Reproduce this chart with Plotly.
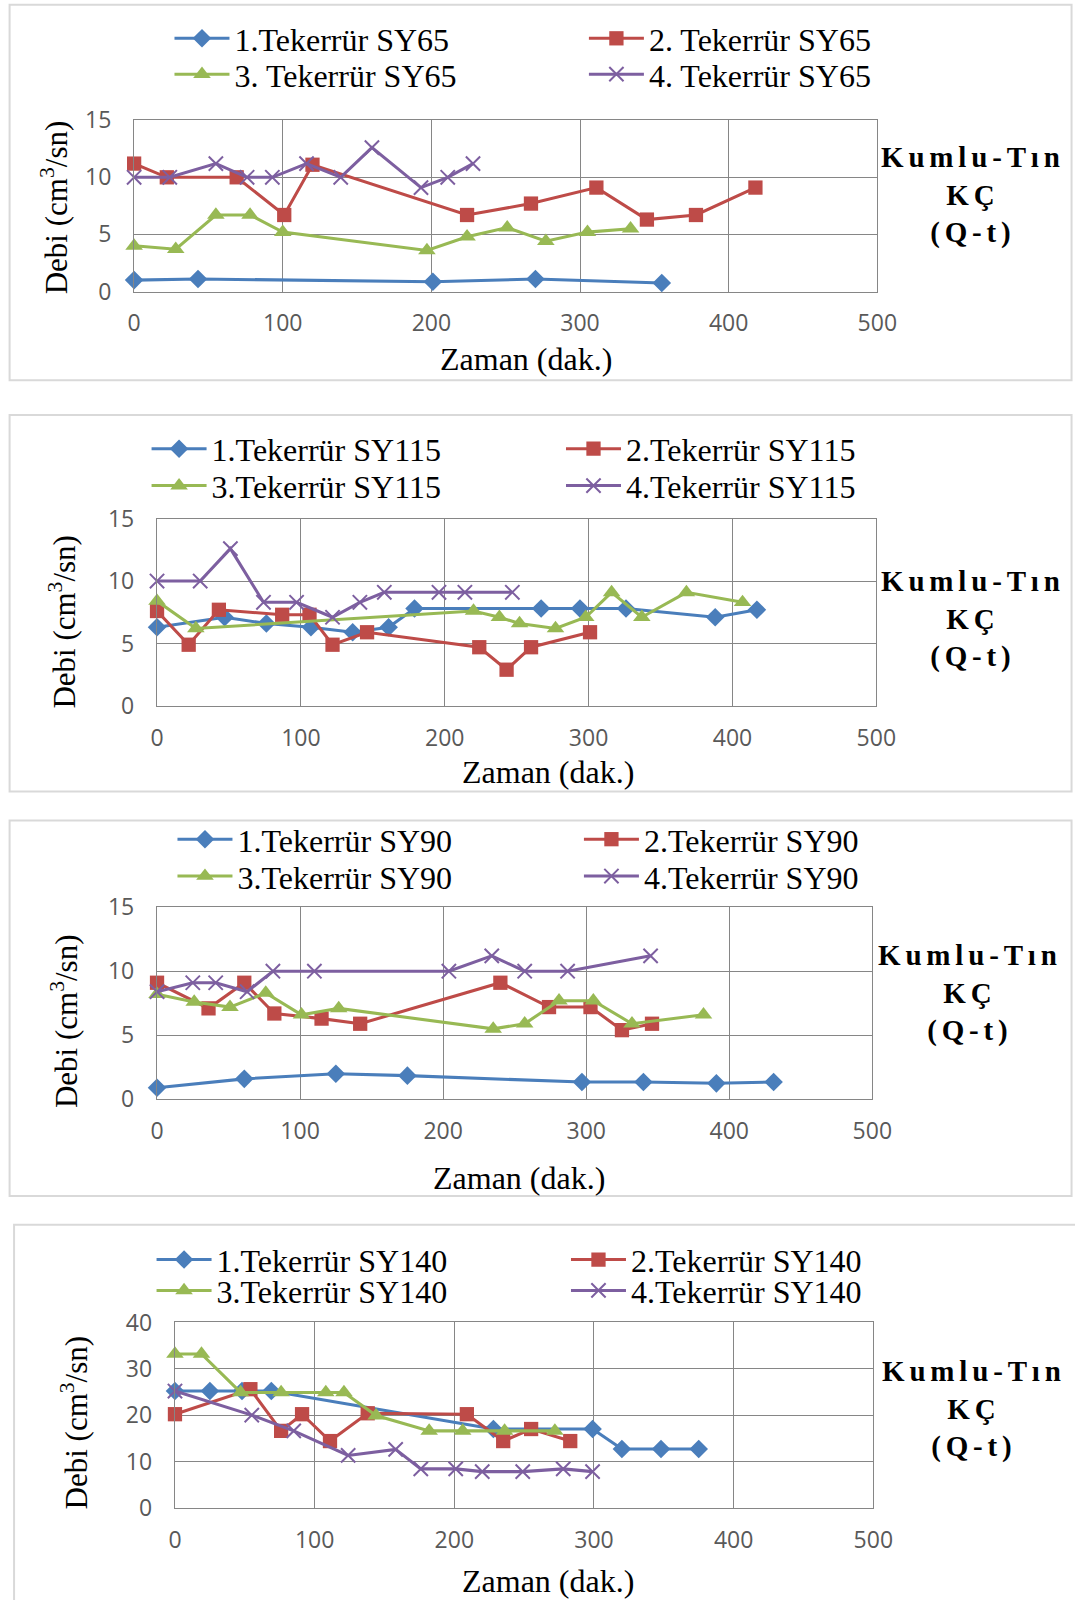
import plotly.graph_objects as go

# ---------------- data ----------------
sy65_1_x = [0, 43, 201, 270, 355]
sy65_1_y = [1.0, 1.1, 0.85, 1.1, 0.75]
sy65_2_x = [0, 22, 69, 101, 120, 224, 267, 311, 345, 378, 418]
sy65_2_y = [11.2, 10.0, 10.0, 6.7, 11.1, 6.7, 7.7, 9.1, 6.3, 6.7, 9.1]
sy65_3_x = [0, 28, 55, 78, 100, 197, 224, 251, 277, 305, 334]
sy65_3_y = [4.0, 3.7, 6.7, 6.7, 5.2, 3.6, 4.8, 5.6, 4.4, 5.2, 5.5]
sy65_4_x = [0, 24, 55, 76, 93, 116, 139, 160, 193, 211, 228]
sy65_4_y = [10, 10, 11.2, 10, 10, 11.2, 10, 12.6, 9.1, 10, 11.2]

sy115_1_x = [0, 47, 76, 107, 136, 161, 179, 267, 294, 326, 388, 417]
sy115_1_y = [6.3, 7.1, 6.6, 6.3, 5.9, 6.3, 7.8, 7.8, 7.8, 7.8, 7.1, 7.7]
sy115_2_x = [0, 22, 43, 87, 106, 122, 146, 224, 243, 260, 301]
sy115_2_y = [7.6, 4.9, 7.7, 7.3, 7.3, 4.9, 5.9, 4.7, 2.9, 4.7, 5.9]
sy115_3_x = [0, 27, 220, 238, 252, 277, 298, 316, 337, 368, 407]
sy115_3_y = [8.4, 6.2, 7.6, 7.1, 6.6, 6.2, 7.1, 9.1, 7.1, 9.1, 8.3]
sy115_4_x = [0, 30, 51, 74, 97, 122, 141, 158, 196, 214, 247]
sy115_4_y = [10, 10, 12.6, 8.3, 8.3, 7.1, 8.3, 9.1, 9.1, 9.1, 9.1]

sy90_1_x = [0, 61, 125, 175, 297, 340, 391, 431]
sy90_1_y = [0.9, 1.6, 2.0, 1.85, 1.35, 1.35, 1.25, 1.35]
sy90_2_x = [0, 36, 61, 82, 115, 142, 240, 274, 303, 325, 346]
sy90_2_y = [9.1, 7.1, 9.1, 6.7, 6.3, 5.9, 9.1, 7.2, 7.2, 5.4, 5.9]
sy90_3_x = [0, 26, 51, 76, 101, 127, 235, 257, 281, 305, 332, 382]
sy90_3_y = [8.2, 7.6, 7.2, 8.3, 6.6, 7.1, 5.5, 5.9, 7.7, 7.7, 5.9, 6.6]
sy90_4_x = [0, 25, 41, 63, 81, 110, 204, 234, 257, 287, 345]
sy90_4_y = [8.4, 9.1, 9.1, 8.4, 10, 10, 10, 11.2, 10, 10, 11.2]

sy140_1_x = [0, 25, 48, 69, 228, 299, 320, 348, 375]
sy140_1_y = [25.2, 25.2, 25.2, 25.2, 17.0, 17.0, 12.7, 12.7, 12.7]
sy140_2_x = [0, 54, 76, 91, 111, 138, 209, 235, 255, 283]
sy140_2_y = [20.2, 25.6, 16.6, 20.2, 14.4, 20.4, 20.2, 14.4, 17.0, 14.4]
sy140_3_x = [0, 19, 47, 76, 108, 121, 144, 182, 206, 236, 272]
sy140_3_y = [33.2, 33.2, 24.9, 24.9, 24.9, 24.9, 19.9, 16.6, 16.6, 16.6, 16.6]
sy140_4_x = [0, 55, 85, 124, 158, 176, 201, 220, 249, 278, 299]
sy140_4_y = [25.2, 20.0, 16.6, 11.3, 12.6, 8.4, 8.4, 7.8, 7.8, 8.4, 7.8]

names_sy65 = ["1.Tekerrür SY65", "2. Tekerrür SY65", "3. Tekerrür SY65", "4. Tekerrür SY65"]
names_sy115 = ["1.Tekerrür SY115", "2.Tekerrür SY115", "3.Tekerrür SY115", "4.Tekerrür SY115"]
names_sy90 = ["1.Tekerrür SY90", "2.Tekerrür SY90", "3.Tekerrür SY90", "4.Tekerrür SY90"]
names_sy140 = ["1.Tekerrür SY140", "2.Tekerrür SY140", "3.Tekerrür SY140", "4.Tekerrür SY140"]

x_ticks = [0, 100, 200, 300, 400, 500]
y_ticks_15 = [0, 5, 10, 15]
y_ticks_40 = [0, 10, 20, 30, 40]
x_title = "Zaman (dak.)"
y_title = "Debi (cm<sup>3</sup>/sn)"
side_lines = ["Kumlu-Tın", "KÇ", "(Q-t)"]

# ---------------- geometry (target pixel positions -> figure paper) ----------------
AX, BX = 0.979, 5.4
AY, BY = 0.984, 13.4
W, H = 1093, 1613
S = 1 / 0.98  # size compensation

def fx(px):
    return ((px - BX) / AX) / W

def fy(py):
    return 1 - ((py - BY) / AY) / H

colors = ["#4A7EBB", "#BE4B48", "#98B954", "#7D5FA0"]
symbols = ["diamond", "square", "triangle-up", "x-thin"]
msizes = [14, 14, 15, 14]
SERIF = "Liberation Serif"
GRID = "#868686"

def spaced(s):
    return "\u2006".join(list(s))

side_text = "<b>" + "<br>".join(spaced(s) for s in side_lines) + "</b>"

panels = [
    dict(series=[(sy65_1_x, sy65_1_y), (sy65_2_x, sy65_2_y), (sy65_3_x, sy65_3_y), (sy65_4_x, sy65_4_y)],
         names=names_sy65, yt=y_ticks_15, rect=(133, 879, 117, 289),
         leg=(174, 590, 35, 71), xt=(526, 357), yti=(53, 204), side=(973, 192)),
    dict(series=[(sy115_1_x, sy115_1_y), (sy115_2_x, sy115_2_y), (sy115_3_x, sy115_3_y), (sy115_4_x, sy115_4_y)],
         names=names_sy115, yt=y_ticks_15, rect=(156, 878, 517, 705),
         leg=(151, 567, 447, 484), xt=(548, 771), yti=(61, 620), side=(973, 618)),
    dict(series=[(sy90_1_x, sy90_1_y), (sy90_2_x, sy90_2_y), (sy90_3_x, sy90_3_y), (sy90_4_x, sy90_4_y)],
         names=names_sy90, yt=y_ticks_15, rect=(156, 874, 907, 1100),
         leg=(177, 585, 839, 876), xt=(519, 1179), yti=(63, 1021), side=(970, 993)),
    dict(series=[(sy140_1_x, sy140_1_y), (sy140_2_x, sy140_2_y), (sy140_3_x, sy140_3_y), (sy140_4_x, sy140_4_y)],
         names=names_sy140, yt=y_ticks_40, rect=(174, 875, 1324, 1510),
         leg=(156, 572, 1261, 1292), xt=(548, 1584), yti=(73, 1424), side=(974, 1411)),
]

boxes = [(8, 1074, 1, 378), (8, 1074, 413, 791), (8, 1074, 820, 1197), (12.5, 1085, 1226, 1610)]

fig = go.Figure()
layout = dict(width=W, height=H, margin=dict(l=0, r=0, t=0, b=0),
              paper_bgcolor="white", plot_bgcolor="white", showlegend=True,
              annotations=[], shapes=[])

leg_idx = 0
for p_i, p in enumerate(panels):
    ax = "" if p_i == 0 else str(p_i + 1)
    x0, x1, y0, y1 = p["rect"]
    lx1, lx2, ly1, ly2 = p["leg"]
    for s_i, (xs, ys) in enumerate(p["series"]):
        leg_idx += 1
        lname = "legend" if leg_idx == 1 else f"legend{leg_idx}"
        fig.add_trace(go.Scatter(
            x=xs, y=ys, name=p["names"][s_i], mode="lines+markers",
            xaxis="x" + ax, yaxis="y" + ax, legend=lname, cliponaxis=False,
            line=dict(color=colors[s_i], width=3 * S),
            marker=dict(symbol=symbols[s_i], size=msizes[s_i] * S, color=colors[s_i],
                        line=dict(color=colors[s_i], width=2 if s_i == 3 else 0)),
        ))
        lx = lx1 if s_i % 2 == 0 else lx2
        ly = ly1 if s_i < 2 else ly2
        layout[lname] = dict(x=fx(lx - 5.5), y=fy(ly), xanchor="left", yanchor="middle",
                             bgcolor="rgba(0,0,0,0)", itemwidth=55,
                             font=dict(family=SERIF, size=32, color="black"))
    ymax = p["yt"][-1]
    tick_font = dict(family="Open Sans", size=23, color="#595959")
    layout["xaxis" + ax] = dict(domain=[fx(x0), fx(x1)], anchor="y" + ax, range=[0, 500],
                                tickvals=x_ticks, showgrid=True, gridcolor=GRID, gridwidth=1.4,
                                showline=True, mirror=True, linecolor=GRID, linewidth=1.4,
                                zeroline=False, ticks="", ticklabelstandoff=11,
                                tickfont=tick_font)
    layout["yaxis" + ax] = dict(domain=[fy(y1), fy(y0)], anchor="x" + ax, range=[0, ymax],
                                tickvals=p["yt"], showgrid=True, gridcolor=GRID, gridwidth=1.4,
                                showline=True, mirror=True, linecolor=GRID, linewidth=1.4,
                                zeroline=False, ticks="", ticklabelstandoff=17,
                                tickfont=tick_font)
    layout["annotations"].append(dict(text=x_title, x=fx(p["xt"][0]), y=fy(p["xt"][1]),
                                      xref="paper", yref="paper", showarrow=False,
                                      xanchor="center", yanchor="middle",
                                      font=dict(family=SERIF, size=32, color="black")))
    layout["annotations"].append(dict(text=y_title, x=fx(p["yti"][0]), y=fy(p["yti"][1]),
                                      xref="paper", yref="paper", showarrow=False, textangle=-90,
                                      xanchor="center", yanchor="middle",
                                      font=dict(family=SERIF, size=31, color="black")))
    layout["annotations"].append(dict(text=side_text,
                                      x=fx(p["side"][0]), y=fy(p["side"][1]),
                                      xref="paper", yref="paper", showarrow=False, align="center",
                                      xanchor="center", yanchor="middle",
                                      font=dict(family=SERIF, size=29, color="black")))

for (bx0, bx1, by0, by1) in boxes:
    layout["shapes"].append(dict(type="rect", xref="paper", yref="paper",
                                 x0=fx(bx0), x1=fx(bx1), y0=fy(by1), y1=fy(by0),
                                 line=dict(color="#D9D9D9", width=2), layer="below"))

fig.update_layout(**layout)
fig.write_html("out.html")
